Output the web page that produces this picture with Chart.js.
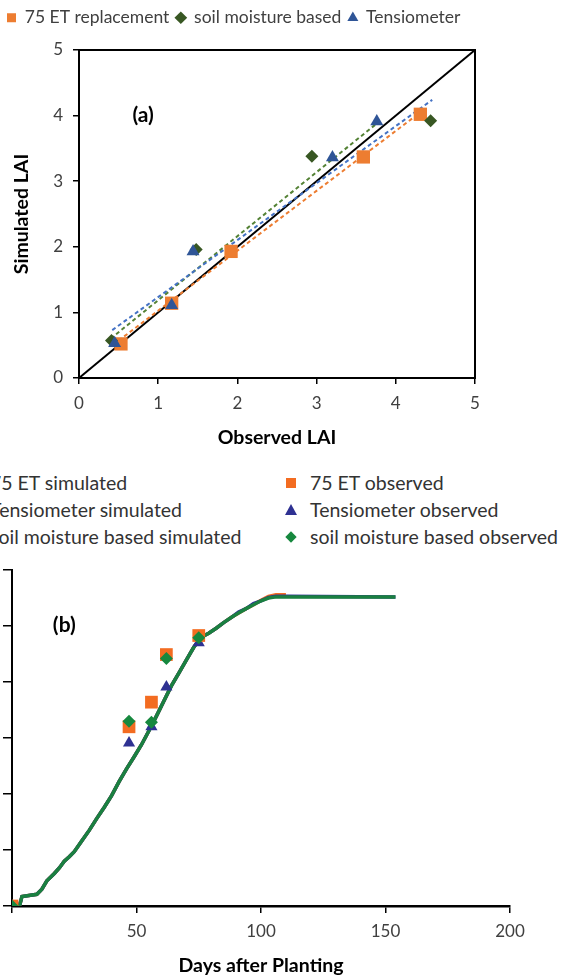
<!DOCTYPE html>
<html>
<head>
<meta charset="utf-8">
<title>Simulated vs observed LAI</title>
<script src="https://cdn.jsdelivr.net/npm/chart.js@4.4.1/dist/chart.umd.min.js"></script>
<style>
  html, body { margin: 0; padding: 0; background: #fff; }
  body { position: relative; width: 569px; height: 977px; overflow: hidden; font-family: Lato, sans-serif; }
  .box { position: absolute; left: 0; width: 569px; }
  #boxA { top: 0; height: 450px; }
  #boxB { top: 560px; height: 417px; }
  #legendB { position: absolute; top: 469px; left: -64px; display: grid; grid-template-columns: 349px 300px; font-size: 19.5px; color: #333; }
  #legendB .item { display: flex; align-items: center; height: 27px; white-space: nowrap; }
  #legendB .mk { flex: none; display: inline-block; }
</style>
</head>
<body>
<div class="box" id="boxA"><canvas id="chartA"></canvas></div>
<div id="legendB"></div>
<div class="box" id="boxB"><canvas id="chartB"></canvas></div>
<script>
// ---- (a) observed vs simulated LAI ----
const etObsLAI = [0.53, 1.17, 1.92, 3.59, 4.31]
const etSimLAI = [0.52, 1.14, 1.93, 3.37, 4.02]
const soilObsLAI = [0.41, 1.48, 2.94, 4.44]
const soilSimLAI = [0.57, 1.96, 3.38, 3.92]
const tenObsLAI = [0.45, 1.17, 1.44, 3.20, 3.76]
const tenSimLAI = [0.53, 1.11, 1.93, 3.36, 3.91]

// trend line ends
const etTrendX = [0.50, 4.31]
const etTrendY = [0.57, 4.05]
const soilTrendX = [0.40, 3.76]
const soilTrendY = [0.60, 3.88]
const tenTrendX = [0.42, 4.46]
const tenTrendY = [0.73, 4.24]
const oneToOne = [0, 5]

// ---- (b) LAI over the season ----
const simDays = [0, 3, 4, 10, 12, 14, 17, 19, 21, 23, 25, 28, 31, 34, 37, 40, 43, 46, 49, 52, 55, 58, 61, 64, 67, 70, 73, 76, 79, 82, 85, 88, 91, 94, 97, 100, 103, 106, 110, 154]
const soilSimSeason = [0, 0, 0.17, 0.21, 0.30, 0.45, 0.58, 0.68, 0.80, 0.88, 0.97, 1.16, 1.35, 1.56, 1.76, 1.97, 2.22, 2.45, 2.66, 2.88, 3.13, 3.39, 3.66, 3.93, 4.16, 4.39, 4.62, 4.80, 4.87, 4.96, 5.06, 5.15, 5.23, 5.31, 5.38, 5.45, 5.50, 5.52, 5.52, 5.52]
const etSimSeason = [0, 0, 0.17, 0.21, 0.30, 0.45, 0.58, 0.68, 0.80, 0.88, 0.97, 1.16, 1.35, 1.56, 1.76, 1.97, 2.22, 2.45, 2.66, 2.88, 3.13, 3.39, 3.66, 3.93, 4.16, 4.39, 4.62, 4.80, 4.87, 4.96, 5.06, 5.15, 5.23, 5.31, 5.38, 5.46, 5.53, 5.56, 5.56, null]
const tenSimSeason = [0, 0, 0.17, 0.21, 0.30, 0.45, 0.58, 0.68, 0.80, 0.88, 0.97, 1.16, 1.35, 1.56, 1.76, 1.97, 2.22, 2.45, 2.66, 2.88, 3.13, 3.39, 3.66, 3.93, 4.16, 4.39, 4.62, 4.80, 4.87, 4.96, 5.06, 5.15, 5.25, 5.31, 5.40, 5.45, 5.51, 5.53, 5.53, 5.52]
const obsDays = [0, 47, 56, 62, 75]
const etObsSeason = [0, 3.20, 3.64, 4.49, 4.83]
const tenObsSeason = [0, 2.91, 3.20, 3.91, 4.70]
const soilObsSeason = [0, 3.30, 3.28, 4.42, 4.79]

Chart.defaults.font.family = 'Lato, sans-serif'
Chart.defaults.animation = false

function pairs(xs, ys) {
  return xs.map((x, i) => ({ x: x, y: ys[i] })).filter(p => p.y !== null)
}

// draws the panel letter at a data position
const panelLabel = {
  id: 'panelLabel',
  afterDatasetsDraw(chart, args, opts) {
    const ctx = chart.ctx
    ctx.save()
    ctx.font = 'bold 21px Lato, sans-serif'
    ctx.fillStyle = '#000'
    ctx.textAlign = 'center'
    ctx.textBaseline = 'middle'
    ctx.fillText(opts.text, chart.scales.x.getPixelForValue(opts.x), chart.scales.y.getPixelForValue(opts.y))
    ctx.restore()
  }
}

// box round the plot area of (a)
const frame = {
  id: 'frame',
  beforeDatasetsDraw(chart) {
    const a = chart.chartArea
    const ctx = chart.ctx
    ctx.save()
    ctx.strokeStyle = '#000'
    ctx.lineWidth = 2
    ctx.strokeRect(a.left, a.top, a.right - a.left, a.bottom - a.top)
    ctx.restore()
  }
}

// fixed height for the top legend of (a)
const legendHeight = {
  id: 'legendHeight',
  beforeInit(chart) {
    const fit = chart.legend.fit
    chart.legend.fit = function () {
      fit.bind(chart.legend)()
      this.height = 48
    }
  }
}

const blackAxis = (width) => ({ display: true, color: '#000', width: width })

new Chart(document.getElementById('chartA'), {
  type: 'scatter',
  data: {
    datasets: [
      { label: '75 ET replacement', data: pairs(etObsLAI, etSimLAI), pointStyle: 'rect', pointRadius: 9.4, backgroundColor: '#ED7D31', borderColor: '#ED7D31', borderWidth: 0, order: 2 },
      { label: 'soil moisture based', data: pairs(soilObsLAI, soilSimLAI), pointStyle: 'rectRot', pointRadius: 6.5, backgroundColor: '#385723', borderColor: '#385723', borderWidth: 0, order: 1 },
      { label: 'Tensiometer', data: pairs(tenObsLAI, tenSimLAI), pointStyle: 'triangle', pointRadius: 7.5, backgroundColor: '#2F5597', borderColor: '#2F5597', borderWidth: 0, order: 0 },
      { label: '1:1', data: pairs(oneToOne, oneToOne), showLine: true, pointRadius: 0, borderColor: '#000', borderWidth: 2, order: 10 },
      { label: 'trend 75 ET', data: pairs(etTrendX, etTrendY), showLine: true, pointRadius: 0, borderColor: '#ED7D31', borderWidth: 2, borderDash: [4, 3], order: 5 },
      { label: 'trend soil', data: pairs(soilTrendX, soilTrendY), showLine: true, pointRadius: 0, borderColor: '#548235', borderWidth: 2, borderDash: [4, 3], order: 6 },
      { label: 'trend tensiometer', data: pairs(tenTrendX, tenTrendY), showLine: true, pointRadius: 0, borderColor: '#4472C4', borderWidth: 2, borderDash: [4, 3], order: 4 }
    ]
  },
  options: {
    responsive: true,
    maintainAspectRatio: false,
    layout: { padding: { top: 2, left: 0, right: 94, bottom: 0 } },
    plugins: {
      legend: {
        position: 'top',
        align: 'start',
        labels: {
          usePointStyle: true,
          boxWidth: 9,
          boxHeight: 9,
          padding: 7,
          color: '#404040',
          font: { size: 17.5 },
          filter: (item) => item.datasetIndex < 3,
          sort: (a, b) => a.datasetIndex - b.datasetIndex
        }
      },
      tooltip: { enabled: false },
      panelLabel: { text: '(a)', x: 0.81, y: 4.0 }
    },
    scales: {
      x: {
        min: 0, max: 5,
        ticks: { stepSize: 1, color: '#404040', font: { size: 17 }, padding: 9 },
        grid: { drawOnChartArea: false, drawTicks: true, tickLength: 6, color: '#000', lineWidth: 1.5 },
        border: blackAxis(2),
        title: { display: true, text: 'Observed LAI', color: '#000', font: { size: 19.5, weight: 'bold' }, padding: { top: 0, bottom: 1 } },
        afterFit: (s) => { s.height = 72 }
      },
      y: {
        min: 0, max: 5,
        ticks: { stepSize: 1, color: '#404040', font: { size: 17 }, padding: 10 },
        grid: { drawOnChartArea: false, drawTicks: true, tickLength: 6, color: '#000', lineWidth: 1.5 },
        border: blackAxis(2),
        title: { display: true, text: 'Simulated LAI', color: '#000', font: { size: 19.5, weight: 'bold' }, padding: { top: 10, bottom: 0 } },
        afterFit: (s) => { s.width = 79 }
      }
    }
  },
  plugins: [panelLabel, frame, legendHeight]
})

const chartB = new Chart(document.getElementById('chartB'), {
  type: 'scatter',
  data: {
    datasets: [
      { label: '75 ET simulated', data: pairs(simDays, etSimSeason), showLine: true, pointRadius: 0, borderColor: '#F36C21', borderWidth: 3.5, order: 5, legendMark: 'line' },
      { label: '75 ET observed', data: pairs(obsDays, etObsSeason), pointStyle: 'rect', pointRadius: 9, backgroundColor: '#F36C21', borderWidth: 0, order: 1, legendMark: 'rect' },
      { label: 'Tensiometer simulated', data: pairs(simDays, tenSimSeason), showLine: true, pointRadius: 0, borderColor: '#2E3192', borderWidth: 3.5, order: 4, legendMark: 'line' },
      { label: 'Tensiometer observed', data: pairs(obsDays, tenObsSeason), pointStyle: 'triangle', pointRadius: 7, backgroundColor: '#2E3192', borderWidth: 0, order: 2, legendMark: 'triangle' },
      { label: 'soil moisture based simulated', data: pairs(simDays, soilSimSeason), showLine: true, pointRadius: 0, borderColor: '#1A8040', borderWidth: 3.5, order: 3, legendMark: 'line' },
      { label: 'soil moisture based observed', data: pairs(obsDays, soilObsSeason), pointStyle: 'rectRot', pointRadius: 6.5, backgroundColor: '#16883E', borderWidth: 0, order: 0, legendMark: 'diamond' }
    ]
  },
  options: {
    responsive: true,
    maintainAspectRatio: false,
    layout: { padding: { top: 10, left: 3, right: 59, bottom: 0 } },
    plugins: {
      legend: { display: false },
      tooltip: { enabled: false },
      panelLabel: { text: '(b)', x: 21, y: 5.02 }
    },
    scales: {
      x: {
        min: 0, max: 200,
        ticks: { stepSize: 50, color: '#404040', font: { size: 17 }, padding: 8, callback: (v) => v === 0 ? '' : v },
        grid: { drawOnChartArea: false, drawTicks: true, tickLength: 7, color: '#000', lineWidth: 1.5 },
        border: blackAxis(2.5),
        title: { display: true, text: 'Days after Planting', color: '#000', font: { size: 19.5, weight: 'bold' }, padding: { top: 0, bottom: 0 } },
        afterFit: (s) => { s.height = 71 }
      },
      y: {
        min: 0, max: 6,
        ticks: { stepSize: 1, display: false },
        grid: { drawOnChartArea: false, drawTicks: true, tickLength: 9, color: '#000', lineWidth: 1.5 },
        border: blackAxis(2)
      }
    }
  },
  plugins: [panelLabel]
})

// legend of (b), two columns, built from the chart's datasets
const legendBox = document.getElementById('legendB')
chartB.data.datasets.forEach((ds) => {
  const item = document.createElement('div')
  item.className = 'item'
  const mk = document.createElement('span')
  mk.className = 'mk'
  const c = ds.borderColor || ds.backgroundColor
  const bg = ds.backgroundColor || ds.borderColor
  if (ds.legendMark === 'line') {
    mk.style.cssText = `width:40px;height:3px;background:${c};margin-right:14px`
  } else if (ds.legendMark === 'rect') {
    mk.style.cssText = `width:10px;height:10px;background:${bg};margin-left:1px;margin-right:14px`
  } else if (ds.legendMark === 'triangle') {
    mk.style.cssText = `width:12px;height:11px;background:${bg};clip-path:polygon(50% 0,100% 100%,0 100%);margin-right:13px`
  } else {
    mk.style.cssText = `width:8px;height:8px;background:${bg};transform:rotate(45deg);margin-left:2px;margin-right:15px`
  }
  const txt = document.createElement('span')
  txt.textContent = ds.label
  item.appendChild(mk)
  item.appendChild(txt)
  legendBox.appendChild(item)
})
</script>
</body>
</html>
